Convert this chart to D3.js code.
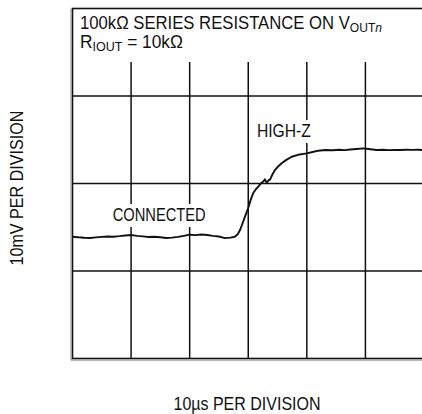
<!DOCTYPE html>
<html>
<head>
<meta charset="utf-8">
<script src="https://cdn.jsdelivr.net/npm/d3@7"></script>
<style>
  body { margin: 0; background: #fff; }
  svg { display: block; }
  text { font-family: "Liberation Sans", Arial, sans-serif; fill: #111; }
</style>
</head>
<body>
<div id="chart"></div>
<script>
// scope trace, time in µs, level in mV
const timeUs = [0, 1, 2, 3, 4, 5, 6, 7, 8, 9, 10, 11, 12, 13, 14, 15, 16, 17, 18, 19, 20, 21, 22, 23, 24, 25, 26, 27,
  27.7, 28.2, 28.6, 29, 29.44, 30, 30.4, 30.85, 31.3, 31.71, 32.29, 32.6, 32.85, 33.05, 33.24, 33.5, 33.7, 34.1, 34.56,
  35.1, 35.7, 36.5, 37.41, 38.5, 39.97, 41, 41.95, 43.09, 44.45, 45.5, 46.5, 47.35, 48.5, 49.62, 50.5, 51.91, 53, 54, 55,
  55.89, 57, 58, 59, 60];
const traceMv = [13.92, 13.85, 13.80, 13.77, 13.84, 13.90, 13.94, 13.92, 13.98, 14.06, 14.11, 14.02, 13.96, 13.89, 13.92,
  13.85, 13.77, 13.82, 13.90, 14.02, 14.15, 14.10, 14.17, 14.12, 14.02, 13.94, 13.76, 13.82,
  13.92, 14.2, 14.69, 15.4, 16.21, 17.2, 18.1, 18.91, 19.35, 19.63, 20.09, 20.25, 20.48, 20.2, 20.14, 20.4, 20.42, 21.0, 21.54,
  21.95, 22.31, 22.7, 23.06, 23.28, 23.45, 23.6, 23.75, 23.83, 23.8, 23.86, 23.82, 23.89, 23.95, 24.02, 23.95, 23.83, 23.86,
  23.82, 23.84, 23.83, 23.86, 23.84, 23.85, 23.83];

const xDivs = [0, 10, 20, 30, 40, 50, 60];
const yDivs = [0, 10, 20, 30, 40];

const notes = [
  { label: "CONNECTED", t: 6.86, v: 15.71, len: 93 },
  { label: "HIGH-Z", t: 31.48, v: 25.31, len: 54 }
];

const width = 422;
const height = 414;
const margin = { top: 8.5, left: 72.5, bottom: 55.5, right: -2 };
const iwidth = width - margin.left - margin.right;
const iheight = height - margin.top - margin.bottom;
const headerH = 53.5;

const svg = d3.select("#chart").append("svg")
  .attr("width", width)
  .attr("height", height);

const g = svg.append("g").attr("transform", `translate(${margin.left},${margin.top})`);

const x = d3.scaleLinear().domain([0, 60]).range([0, iwidth]);
const y = d3.scaleLinear().domain([0, 40]).range([iheight, 0]);

// grid
g.selectAll(".vgrid").data(xDivs.slice(1, -1)).enter().append("line")
  .attr("x1", d => x(d)).attr("x2", d => x(d))
  .attr("y1", 0).attr("y2", iheight)
  .style("stroke", "#111").style("stroke-width", 1.5);

g.selectAll(".hgrid").data(yDivs.slice(1, -1)).enter().append("line")
  .attr("x1", 0).attr("x2", iwidth)
  .attr("y1", d => y(d)).attr("y2", d => y(d))
  .style("stroke", "#111").style("stroke-width", 1.5);

// blank header area
g.append("rect")
  .attr("x", 0).attr("y", 0).attr("width", iwidth).attr("height", headerH)
  .style("fill", "#fff");

// frame, with the grey edge on left and bottom
g.append("rect")
  .attr("x", 0).attr("y", 0).attr("width", iwidth).attr("height", iheight)
  .style("fill", "none").style("stroke", "#111").style("stroke-width", 1.6);
g.append("line")
  .attr("x1", -1.5).attr("x2", iwidth).attr("y1", iheight + 1.6).attr("y2", iheight + 1.6)
  .style("stroke", "#888").style("stroke-width", 1);
g.append("line")
  .attr("x1", -1.5).attr("x2", -1.5).attr("y1", 0).attr("y2", iheight + 1.6)
  .style("stroke", "#888").style("stroke-width", 1);

// labels on the trace, on a white patch
const noteG = g.selectAll(".note").data(notes).enter().append("g");
const noteText = noteG.append("text")
  .attr("x", d => x(d.t)).attr("y", d => y(d.v))
  .attr("textLength", d => d.len)
  .attr("lengthAdjust", "spacingAndGlyphs")
  .style("font-size", "18px")
  .text(d => d.label);
noteText.each(function() {
  const b = this.getBBox();
  d3.select(this.parentNode).insert("rect", "text")
    .attr("x", b.x - 3).attr("y", b.y - 1).attr("width", b.width + 6).attr("height", b.height + 3)
    .style("fill", "#fff");
});

// trace
const pts = timeUs.map((t, i) => [t, traceMv[i]]);
const line = d3.line().x(d => x(d[0])).y(d => y(d[1]));
g.append("path")
  .datum(pts)
  .attr("d", line)
  .style("fill", "none")
  .style("stroke", "#111")
  .style("stroke-width", 1.9)
  .style("stroke-linejoin", "round");

// header text inside the box
const t1 = g.append("text").attr("x", 7.5).attr("y", 20.5)
  .attr("textLength", 302).attr("lengthAdjust", "spacingAndGlyphs")
  .style("font-size", "18px");
t1.append("tspan").text("100kΩ SERIES RESISTANCE ON V");
t1.append("tspan").attr("dy", 3).style("font-size", "13px").text("OUT");
t1.append("tspan").style("font-size", "13px").style("font-style", "italic").text("n");

const t2 = g.append("text").attr("x", 7.5).attr("y", 39.5)
  .attr("textLength", 103).attr("lengthAdjust", "spacingAndGlyphs")
  .style("font-size", "18px");
t2.append("tspan").text("R");
t2.append("tspan").attr("dy", 3).style("font-size", "13px").text("IOUT");
t2.append("tspan").attr("dy", -3).text(" = 10kΩ");

// axis titles
svg.append("text")
  .attr("x", 247).attr("y", 410)
  .attr("text-anchor", "middle")
  .attr("textLength", 147).attr("lengthAdjust", "spacingAndGlyphs")
  .style("font-size", "18px")
  .text("10µs PER DIVISION");

svg.append("text")
  .attr("transform", "translate(23,188) rotate(-90)")
  .attr("text-anchor", "middle")
  .attr("textLength", 155).attr("lengthAdjust", "spacingAndGlyphs")
  .style("font-size", "18px")
  .text("10mV PER DIVISION");
</script>
</body>
</html>
